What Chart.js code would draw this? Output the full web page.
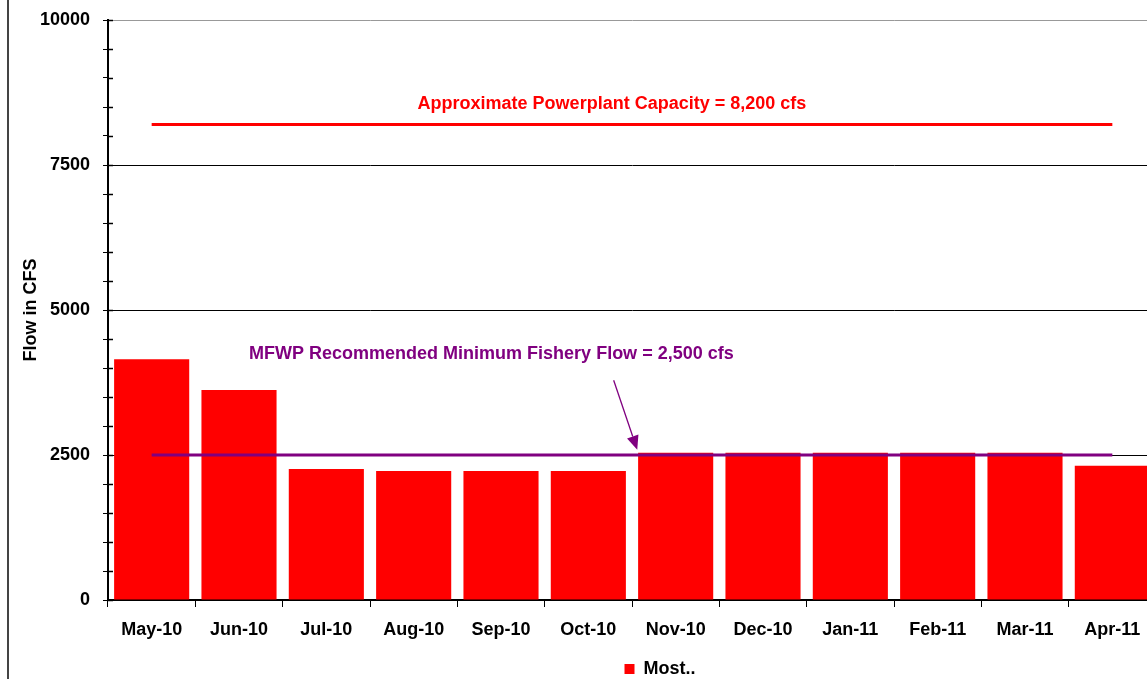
<!DOCTYPE html>
<html>
<head>
<meta charset="utf-8">
<script src="https://cdn.jsdelivr.net/npm/chart.js@4.4.1/dist/chart.umd.min.js"></script>
<style>
  html, body { margin: 0; padding: 0; overflow: hidden; background: #fff; }
  #wrap { width: 1320px; height: 679px; }
</style>
</head>
<body>
<div id="wrap"><canvas id="flow-chart" width="1320" height="679"></canvas></div>
<script>
const months = ['May-10', 'Jun-10', 'Jul-10', 'Aug-10', 'Sep-10', 'Oct-10',
                'Nov-10', 'Dec-10', 'Jan-11', 'Feb-11', 'Mar-11', 'Apr-11'];
const flows = [4150, 3620, 2260, 2225, 2225, 2225, 2540, 2540, 2540, 2540, 2540, 2315];
const capacity = 8200;
const fisheryMin = 2500;
const yTicks = [0, 2500, 5000, 7500, 10000];

const FONT = 'Liberation Sans, Arial, sans-serif';

// notes drawn on top of the plot, placed in data units (category index, cfs)
const notes = {
  capacity: { text: 'Approximate Powerplant Capacity = 8,200 cfs', x: 5.27, y: 8550, color: '#ff0000' },
  fishery: { text: 'MFWP Recommended Minimum Fishery Flow = 2,500 cfs', x: 3.89, y: 4240, color: '#800080' },
  arrow: { from: [5.29, 3790], to: [5.56, 2590], color: '#800080' }
};

const extras = {
  id: 'extras',
  afterDatasetsDraw(chart) {
    const ctx = chart.ctx;
    const xs = chart.scales.x, ys = chart.scales.y;
    ctx.save();
    ctx.font = 'bold 18px ' + FONT;
    ctx.textAlign = 'center';
    ctx.textBaseline = 'middle';
    [notes.capacity, notes.fishery].forEach(n => {
      ctx.fillStyle = n.color;
      ctx.fillText(n.text, xs.getPixelForValue(n.x), ys.getPixelForValue(n.y));
    });

    // arrow pointing at the minimum flow line
    const a = notes.arrow;
    const x1 = xs.getPixelForValue(a.from[0]), y1 = ys.getPixelForValue(a.from[1]);
    const x2 = xs.getPixelForValue(a.to[0]), y2 = ys.getPixelForValue(a.to[1]);
    const ang = Math.atan2(y2 - y1, x2 - x1);
    const len = 14, half = 6;
    const bx = x2 - len * Math.cos(ang), by = y2 - len * Math.sin(ang);
    ctx.strokeStyle = a.color;
    ctx.fillStyle = a.color;
    ctx.lineWidth = 1.3;
    ctx.beginPath();
    ctx.moveTo(x1, y1);
    ctx.lineTo(bx, by);
    ctx.stroke();
    ctx.beginPath();
    ctx.moveTo(x2, y2);
    ctx.lineTo(bx + half * Math.sin(ang), by - half * Math.cos(ang));
    ctx.lineTo(bx - half * Math.sin(ang), by + half * Math.cos(ang));
    ctx.closePath();
    ctx.fill();

    // y ticks crossing into the plot
    ctx.strokeStyle = '#000';
    ctx.lineWidth = 1.5;
    ys.ticks.forEach(t => {
      const py = Math.round(ys.getPixelForValue(t.value)) + 0.5;
      ctx.beginPath();
      ctx.moveTo(xs.left, py);
      ctx.lineTo(xs.left + 5, py);
      ctx.stroke();
    });

    // outer frame line at the left
    ctx.strokeStyle = '#444';
    ctx.lineWidth = 2;
    ctx.beginPath();
    ctx.moveTo(8, 0);
    ctx.lineTo(8, chart.height);
    ctx.stroke();
    ctx.restore();
  }
};

new Chart(document.getElementById('flow-chart'), {
  type: 'bar',
  plugins: [extras],
  data: {
    labels: months,
    datasets: [
      {
        label: 'Most..',
        data: flows,
        backgroundColor: '#ff0000',
        borderWidth: 0,
        categoryPercentage: 1.0,
        barPercentage: 0.86,
        order: 2
      },
      {
        type: 'line',
        label: 'Capacity',
        data: months.map(() => capacity),
        borderColor: '#ff0000',
        borderWidth: 3,
        pointRadius: 0,
        fill: false,
        order: 1
      },
      {
        type: 'line',
        label: 'Fishery',
        data: months.map(() => fisheryMin),
        borderColor: '#800080',
        borderWidth: 3,
        pointRadius: 0,
        fill: false,
        order: 1
      }
    ]
  },
  options: {
    responsive: false,
    animation: false,
    devicePixelRatio: 1,
    layout: { padding: { left: 0, right: 0, top: 20, bottom: -9 } },
    plugins: {
      tooltip: { enabled: false },
      legend: {
        position: 'bottom',
        labels: {
          filter: item => item.datasetIndex === 0,
          usePointStyle: true,
          pointStyle: 'rect',
          boxWidth: 10,
          boxHeight: 10,
          padding: 1,
          color: '#000',
          font: { family: FONT, size: 18, weight: 'bold' }
        }
      }
    },
    scales: {
      x: {
        offset: true,
        grid: { offset: true, drawOnChartArea: false, drawTicks: true, tickLength: 7, tickColor: '#000' },
        border: { color: '#000', width: 1.5 },
        ticks: { color: '#000', padding: 12, maxRotation: 0, font: { family: FONT, size: 18, weight: 'bold' } },
        afterFit: s => { s.height = 59; }
      },
      y: {
        min: 0,
        max: 10000,
        ticks: {
          stepSize: 500,
          autoSkip: false,
          padding: 13,
          color: '#000',
          font: { family: FONT, size: 18, weight: 'bold' },
          callback: v => (yTicks.includes(v) ? String(v) : '')
        },
        grid: {
          tickLength: 5,
          tickColor: '#000',
          lineWidth: 1,
          color: c => {
            const v = c.tick && c.tick.value;
            if (v === 10000) return '#999';
            return yTicks.includes(v) ? '#000' : 'rgba(0,0,0,0)';
          }
        },
        border: { color: '#000', width: 2 },
        title: {
          display: true,
          text: 'Flow in CFS',
          color: '#000',
          padding: { top: 20, bottom: 0 },
          font: { family: FONT, size: 18, weight: 'bold' }
        },
        afterFit: s => { s.width = 108; s.paddingTop = 0; s.paddingBottom = 0; }
      },
      // empty axis on the right that only reserves the space cut off by the window
      spacer: {
        type: 'linear',
        position: 'right',
        display: true,
        grid: { drawOnChartArea: false, drawTicks: false },
        border: { display: false },
        ticks: { display: false },
        afterFit: s => { s.width = 164; s.paddingTop = 0; s.paddingBottom = 0; }
      }
    }
  }
});
</script>
</body>
</html>
